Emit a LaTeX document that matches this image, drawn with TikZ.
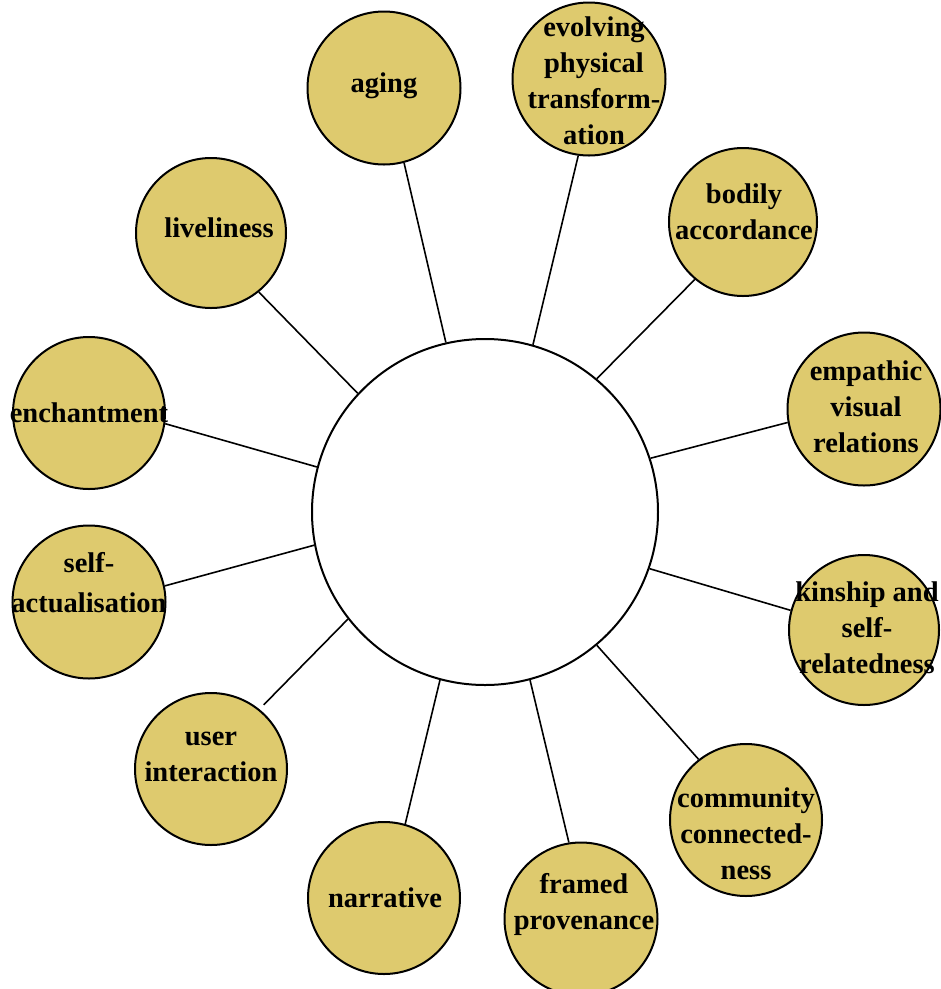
\documentclass[tikz,border=0pt]{standalone}
\usepackage{fontspec}
\setmainfont{Liberation Serif}
\definecolor{gold}{RGB}{222,202,110}
\begin{document}
\begin{tikzpicture}[x=1pt,y=-1pt,
  hubnode/.style={circle, draw, line width=2pt, fill=white, minimum size=346pt, inner sep=0pt},
  bubble/.style={circle, draw, line width=2pt, fill=gold, minimum size=#1, inner sep=0pt},
  bubble/.default=153pt,
  lbl/.style={align=center, font=\fontsize{28.5}{36}\selectfont\bfseries, inner sep=0pt},
  spoke/.style={line width=1.6pt}]
  \useasboundingbox (0,0) rectangle (941,989);

  % central hub
  \node[hubnode] (hub) at (485,512) {};

  % surrounding themes
  \node[bubble] (aging)     at (384,88)  {};
  \node[bubble] (evolving)  at (589,79)  {};
  \node[bubble=148pt] (bodily) at (743,222) {};
  \node[bubble] (empathic)  at (864,409) {};
  \node[bubble=150pt] (kinship) at (864,630) {};
  \node[bubble=152pt] (community) at (746,820) {};
  \node[bubble] (framed)    at (581,919) {};
  \node[bubble=152pt] (narrative) at (384,898) {};
  \node[bubble=152pt] (user) at (211,769) {};
  \node[bubble] (selfact)   at (89,602)  {};
  \node[bubble=152pt] (enchant) at (89,413) {};
  \node[bubble=150pt] (lively) at (211,233) {};

  % spokes: theme / angle on the hub / angle on the theme circle
  \foreach \n/\a/\b in {aging/103/-75.8, evolving/74.8/262.9, bodily/50.1/230.3,
      empathic/18.1/190.4, kinship/-19.1/165.4, community/-50.6/128.1,
      framed/-75.4/99.7, narrative/255.4/74.5, selfact/191.4/12.5,
      enchant/165.2/-8.1, lively/137.3/-51.8}
    \draw[spoke] (hub.\a) -- (\n.\b);
  \draw[spoke, shorten >=6pt] (hub.218.7) -- (user.51.3);

  % labels
  \node[lbl] (t-aging)     at (384,86)  {aging};
  \node[lbl] (t-evolving)  at (594,81)  {evolving\\physical\\transform-\\ation};
  \node[lbl] (t-bodily)    at (744,212) {bodily\\accordance};
  \node[lbl] (t-empathic)  at (866,407) {empathic\\visual\\relations};
  \node[lbl] (t-kinship)   at (867,628) {kinship and\\self-\\relatedness};
  \node[lbl] (t-community) at (746,834) {community\\connected-\\ness};
  \node[lbl] (t-framed)    at (584,904) {framed\\provenance};
  \node[lbl] (t-narrative) at (385,898) {narrative};
  \node[lbl] (t-user)      at (211,757) {user\\interaction};
  \node[lbl] (t-selfact)   at (89,583)  {self-\\[4pt]actualisation};
  \node[lbl] (t-enchant)   at (89,413)  {enchantment};
  \node[lbl] (t-lively)    at (219,228) {liveliness};
\end{tikzpicture}
\end{document}
